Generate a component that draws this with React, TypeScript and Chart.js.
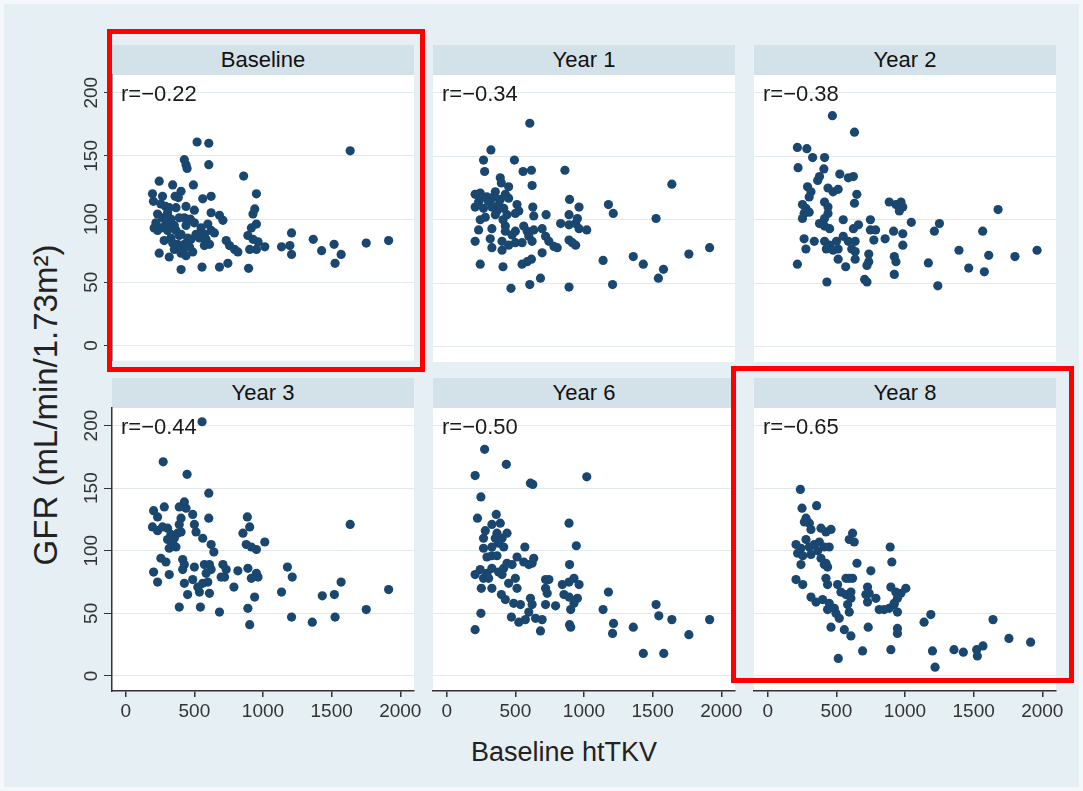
import React, { useEffect, useRef } from "react";
import { Chart, registerables } from "chart.js";
Chart.register(...registerables);

const FONT = '"Liberation Sans", Arial, Helvetica, sans-serif';

const panelTitles = ["Baseline", "Year 1", "Year 2", "Year 3", "Year 6", "Year 8"];
const rLabels = ["r=\u22120.22", "r=\u22120.34", "r=\u22120.38", "r=\u22120.44", "r=\u22120.50", "r=\u22120.65"];
const xTicks = [0, 500, 1000, 1500, 2000];
const yTicks = [0, 50, 100, 150, 200];
const xTitle = "Baseline htTKV";
const yTitle = "GFR (mL/min/1.73m\u00B2)";

// [baseline htTKV, GFR]
const baselinePts = [
  [520,161],[605,160],[1635,154],[427,147],[439,143],[447,140],[605,143],[859,134],[244,130],[342,127],
  [493,127],[195,120],[202,114],[268,118],[403,122],[383,117],[952,120],[561,116],[622,118],[940,108],
  [927,104],[500,107],[439,110],[366,109],[622,105],[683,103],[708,99],[232,104],[268,101],[305,105],
  [329,100],[952,96],[915,93],[207,93],[232,91],[293,96],[354,95],[439,95],[500,97],[549,93],
  [598,96],[622,91],[1208,89],[280,83],[329,85],[390,87],[451,85],[512,88],[573,88],[585,84],
  [646,89],[890,87],[927,84],[964,82],[1013,78],[732,83],[756,79],[793,76],[817,74],[427,80],
  [464,78],[488,74],[354,76],[415,75],[573,79],[610,80],[903,76],[952,76],[1135,78],[1196,79],
  [1208,72],[1366,84],[1427,75],[1518,80],[1569,72],[1525,65],[1752,81],[1915,83],[244,73],[317,70],
  [403,60],[556,62],[683,62],[744,65],[895,61],[220,97],[256,93],[305,91],[366,91],[403,88],
  [342,81],[378,80],[476,84],[403,73],[439,71],[537,85],[549,89],[317,109],[427,101],[390,101],
  [317,96],[256,112],[290,110],[470,100],[360,118]
];
const year1Pts = [
  [605,176],[322,155],[268,147],[276,138],[493,147],[556,138],[617,139],[861,139],[390,133],[398,129],
  [451,126],[622,127],[1640,128],[207,120],[244,121],[293,118],[354,122],[427,120],[232,114],[317,114],
  [390,116],[451,117],[895,116],[207,110],[268,109],[329,110],[366,107],[415,109],[512,112],[525,107],
  [627,110],[964,110],[1178,112],[1213,105],[244,100],[281,102],[354,104],[439,104],[500,105],[634,103],
  [724,104],[891,104],[952,101],[1525,101],[232,92],[329,93],[427,95],[427,91],[500,91],[561,95],
  [586,91],[634,92],[695,93],[830,97],[891,96],[939,97],[964,93],[1020,92],[207,83],[317,85],
  [403,83],[476,88],[598,87],[622,83],[720,87],[744,83],[781,79],[805,78],[891,84],[915,82],
  [939,80],[329,78],[403,76],[451,80],[500,82],[549,82],[695,74],[244,65],[410,63],[549,65],
  [586,67],[617,69],[1139,68],[1359,71],[1432,65],[1579,61],[1542,54],[1764,73],[1915,78],[468,46],
  [605,49],[683,54],[891,47],[1208,49],[300,115],[340,118],[380,112],[260,118],[410,100]
];
const year2Pts = [
  [471,182],[632,169],[216,157],[285,156],[327,149],[414,149],[221,141],[409,140],[377,134],[364,131],
  [525,136],[587,133],[624,134],[290,126],[315,122],[302,118],[439,125],[476,122],[513,124],[649,120],
  [632,113],[885,114],[934,112],[971,114],[984,110],[959,107],[1678,108],[253,112],[278,109],[302,106],
  [253,101],[265,105],[414,114],[439,110],[439,105],[414,101],[377,97],[414,95],[451,93],[550,100],
  [661,96],[624,93],[748,100],[748,92],[786,92],[1046,98],[1251,97],[1214,91],[917,91],[984,89],
  [855,85],[773,84],[1566,91],[265,85],[339,83],[278,77],[414,83],[451,80],[501,83],[550,87],
  [587,83],[637,83],[427,77],[476,76],[513,77],[612,77],[637,75],[736,73],[984,80],[513,69],
  [637,69],[736,67],[723,64],[922,71],[934,67],[1393,76],[1610,72],[1801,71],[1962,76],[216,65],
  [568,63],[1170,66],[1464,62],[1578,59],[922,57],[431,51],[706,53],[723,51],[1239,48]
];
const year3Pts = [
  [556,203],[273,171],[447,161],[605,146],[281,135],[203,132],[232,127],[390,135],[427,139],[439,134],
  [488,129],[605,126],[886,127],[903,119],[854,114],[1635,121],[195,119],[232,116],[268,119],[305,118],
  [403,126],[390,121],[500,121],[512,115],[561,110],[329,113],[354,110],[378,114],[403,115],[305,109],
  [342,106],[317,102],[366,103],[622,105],[642,99],[878,105],[915,103],[952,101],[1013,107],[256,94],
  [293,91],[415,93],[427,89],[415,85],[500,87],[573,89],[610,89],[622,85],[586,82],[708,89],
  [732,85],[695,79],[720,79],[817,84],[890,86],[952,82],[915,78],[964,79],[1178,87],[1213,79],
  [203,83],[232,75],[317,81],[427,74],[488,77],[525,71],[561,74],[598,75],[451,65],[537,67],
  [610,66],[788,71],[1569,75],[1135,67],[939,63],[1432,64],[1520,65],[1915,69],[390,55],[544,55],
  [683,51],[890,54],[1208,47],[1359,43],[1525,47],[1752,53],[903,41]
];
const year6Pts = [
  [276,181],[434,169],[207,160],[610,154],[627,153],[1020,159],[249,143],[224,126],[361,129],[390,122],
  [329,121],[281,116],[366,114],[439,114],[891,122],[268,110],[354,110],[403,110],[378,106],[415,103],
  [329,103],[268,102],[293,95],[329,96],[366,96],[569,103],[512,95],[561,91],[598,89],[634,94],
  [622,90],[944,104],[895,89],[207,81],[244,85],[293,82],[329,86],[378,83],[415,86],[439,90],
  [476,89],[268,78],[305,78],[403,81],[252,70],[329,70],[451,74],[500,78],[512,70],[720,77],
  [744,77],[720,70],[732,66],[842,73],[854,65],[891,75],[927,78],[964,73],[891,63],[952,62],
  [927,58],[903,53],[1178,67],[398,65],[427,61],[488,58],[537,57],[610,62],[622,57],[598,51],
  [720,57],[793,56],[1139,53],[1525,57],[1545,48],[1640,45],[1915,45],[249,50],[471,47],[525,43],
  [573,45],[647,46],[695,45],[895,41],[903,39],[1215,42],[1208,34],[1359,39],[683,36],[207,37],
  [1764,33],[1432,18],[1581,18]
];
const year8Pts = [
  [238,149],[250,134],[356,136],[279,126],[303,122],[267,123],[388,118],[424,115],[461,117],[315,117],
  [618,114],[594,109],[630,107],[206,105],[242,102],[279,109],[303,103],[339,105],[376,107],[412,103],
  [448,103],[218,98],[255,96],[315,97],[364,100],[242,89],[388,94],[412,89],[436,87],[424,90],
  [892,103],[904,91],[650,90],[751,84],[206,77],[255,73],[424,78],[436,73],[509,73],[570,78],
  [594,78],[618,78],[533,67],[570,65],[606,67],[606,62],[582,57],[594,51],[727,71],[715,65],
  [727,59],[788,62],[739,66],[897,71],[933,67],[970,66],[1006,70],[945,62],[921,58],[885,54],
  [848,53],[812,53],[945,51],[921,57],[315,63],[352,59],[400,61],[448,58],[485,54],[436,53],
  [497,50],[521,46],[461,39],[558,37],[606,32],[732,39],[945,38],[945,34],[1139,43],[1188,49],
  [1641,45],[1757,30],[1915,27],[691,20],[897,21],[514,14],[1200,20],[1357,21],[1425,19],[1522,21],
  [1527,16],[1568,24],[1219,7]
];
const panelData = [baselinePts, year1Pts, year2Pts, year3Pts, year6Pts, year8Pts];

// layout
const COL_LEFT = [112, 433, 754];
const PLOT_W = 302;
const ROW_PLOT_TOP = [75, 408];
const ROW_PLOT_BOTTOM = [362, 691];
const HEADER_H = 30;
const BG = "#e6eff4";
const HEADER_BG = "#d3e1e9";
const DOT = "#1a476f";

const bgPlugin = {
  id: "plotBg",
  beforeDraw(chart: any) {
    const { ctx, chartArea } = chart;
    ctx.save();
    ctx.fillStyle = "#ffffff";
    ctx.fillRect(chartArea.left, chartArea.top, chartArea.right - chartArea.left, chartArea.bottom - chartArea.top);
    ctx.restore();
  },
};

function makeRPlugin(label: string) {
  return {
    id: "rLabel",
    afterDatasetsDraw(chart: any) {
      const { ctx, chartArea } = chart;
      ctx.save();
      ctx.font = `22px ${FONT}`;
      ctx.fillStyle = "#1a1a1a";
      ctx.textBaseline = "middle";
      ctx.textAlign = "left";
      ctx.fillText(label, chartArea.left + 9, chartArea.top + 20);
      ctx.restore();
    },
  };
}

function Panel({ idx }: { idx: number }) {
  const ref = useRef<HTMLCanvasElement>(null);
  const row = Math.floor(idx / 3);
  const col = idx % 3;
  const yAxisW = col === 0 ? 45 : 0;
  const xAxisH = row === 1 ? 45 : 0;
  const padL = col === 0 ? 0 : 10;
  const padR = 25;
  const padT = 10;
  const padB = row === 1 ? 0 : 6;
  const plotL = COL_LEFT[col];
  const plotT = ROW_PLOT_TOP[row];
  const plotB = ROW_PLOT_BOTTOM[row];
  const left = plotL - yAxisW - padL;
  const top = plotT - padT;
  const width = PLOT_W + yAxisW + padL + padR;
  const height = plotB - plotT + padT + xAxisH + padB;

  useEffect(() => {
    if (!ref.current) return;
    const chart = new Chart(ref.current, {
      type: "scatter",
      data: {
        datasets: [
          {
            data: panelData[idx].map(([x, y]) => ({ x, y })),
            backgroundColor: DOT,
            borderColor: DOT,
            borderWidth: 0,
            pointRadius: 4.6,
          },
        ],
      },
      options: {
        animation: false,
        responsive: false,
        maintainAspectRatio: false,
        layout: { padding: { left: padL, right: padR, top: padT, bottom: padB } },
        plugins: { legend: { display: false }, tooltip: { enabled: false }, title: { display: false } },
        scales: {
          x: {
            type: "linear",
            min: -100,
            max: 2100,
            display: row === 1,
            afterBuildTicks: (s: any) => {
              s.ticks = xTicks.map((v) => ({ value: v }));
            },
            afterFit: (s: any) => {
              s.height = xAxisH;
            },
            grid: { drawOnChartArea: false, drawTicks: true, tickLength: 6, tickColor: "#333", color: "#333", lineWidth: 1.5 },
            border: { display: true, color: "#333", width: 1.5 },
            ticks: {
              color: "#333",
              font: { family: FONT, size: 19 },
              padding: 3,
              maxRotation: 0,
              minRotation: 0,
              callback: (v: any) => String(v),
            },
          },
          y: {
            type: "linear",
            min: -12,
            max: 214,
            display: true,
            afterBuildTicks: (s: any) => {
              s.ticks = yTicks.map((v) => ({ value: v }));
            },
            afterFit: (s: any) => {
              s.width = yAxisW;
            },
            grid: { color: "#e2e9ed", lineWidth: 1, drawTicks: col === 0, tickLength: 8, tickColor: "#333" },
            border: { display: col === 0, color: "#333", width: 1.5 },
            ticks: {
              display: col === 0,
              color: "#333",
              font: { family: FONT, size: 19 },
              minRotation: 90,
              maxRotation: 90,
              crossAlign: "center",
              padding: -4,
              callback: (v: any) => String(v),
            },
          },
        },
      } as any,
      plugins: [bgPlugin, makeRPlugin(rLabels[idx])],
    });
    return () => chart.destroy();
  }, []);

  return (
    <>
      <div
        style={{
          position: "absolute",
          left: plotL,
          top: plotT - HEADER_H,
          width: PLOT_W,
          height: HEADER_H,
          background: HEADER_BG,
          color: "#111",
          font: `22px ${FONT}`,
          lineHeight: `${HEADER_H}px`,
          textAlign: "center",
        }}
      >
        {panelTitles[idx]}
      </div>
      <canvas
        ref={ref}
        width={width}
        height={height}
        style={{ position: "absolute", left, top, width, height }}
      />
    </>
  );
}

export default function App() {
  return (
    <div
      style={{
        position: "fixed",
        left: 0,
        top: 0,
        width: 1083,
        height: 791,
        background: "#f4f8fa",
        overflow: "hidden",
      }}
    >
      <div style={{ position: "absolute", left: 4, top: 4, width: 1075, height: 783, background: BG }} />
      {[0, 1, 2, 3, 4, 5].map((i) => (
        <Panel key={i} idx={i} />
      ))}
      <div
        style={{
          position: "absolute",
          left: 46,
          top: 405,
          transform: "translate(-50%, -50%) rotate(-90deg)",
          whiteSpace: "nowrap",
          font: `33px ${FONT}`,
          color: "#222",
        }}
      >
        {yTitle}
      </div>
      <div
        style={{
          position: "absolute",
          left: 564,
          top: 752,
          transform: "translate(-50%, -50%)",
          whiteSpace: "nowrap",
          font: `27px ${FONT}`,
          color: "#222",
        }}
      >
        {xTitle}
      </div>
      <div
        style={{
          position: "absolute",
          left: 107,
          top: 29,
          width: 318,
          height: 343,
          border: "5px solid #ff0000",
          boxSizing: "border-box",
        }}
      />
      <div
        style={{
          position: "absolute",
          left: 731,
          top: 366,
          width: 343,
          height: 317,
          border: "5px solid #ff0000",
          boxSizing: "border-box",
        }}
      />
    </div>
  );
}
